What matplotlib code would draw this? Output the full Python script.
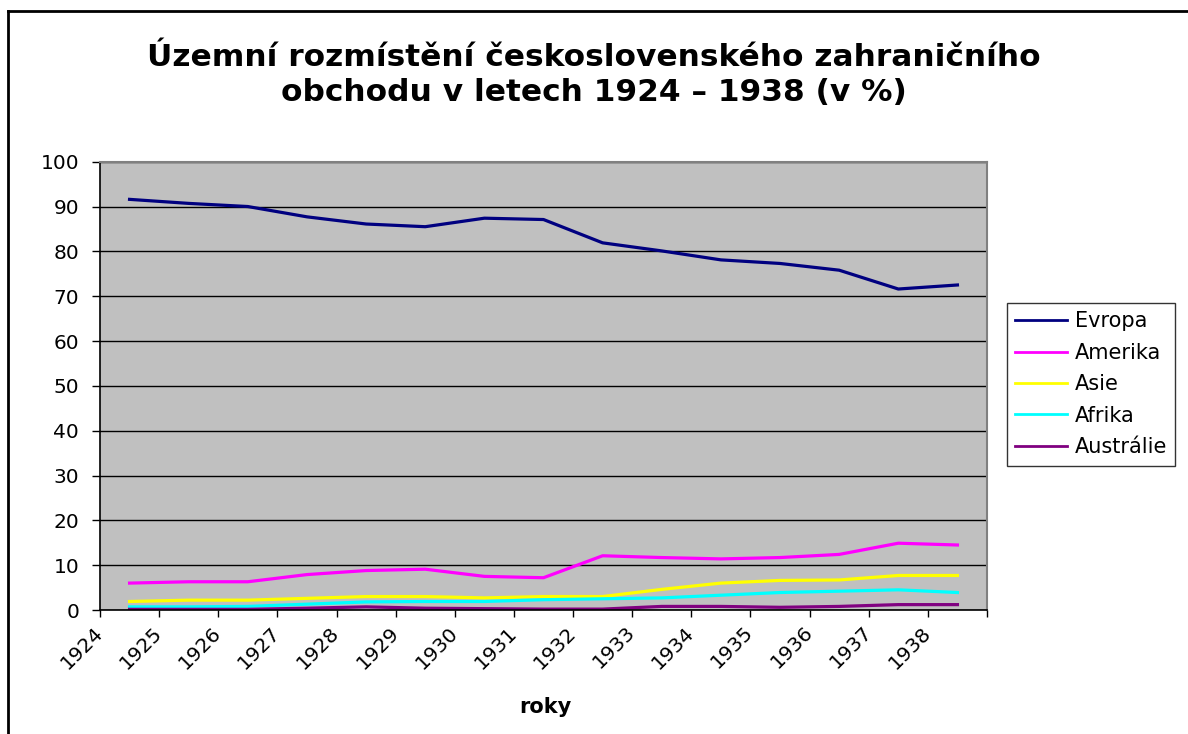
import matplotlib
matplotlib.use("Agg")
import matplotlib.pyplot as plt
import matplotlib.transforms as mtransforms
import numpy as np
from matplotlib.lines import Line2D

plt.rcParams["font.family"] = ["DejaVu Sans"]

YEARS = np.arange(1924, 1939)
EVROPA = [91.6, 90.7, 90.0, 87.7, 86.1, 85.5, 87.4, 87.1, 81.9, 80.1, 78.1, 77.3, 75.8, 71.6, 72.5]
AMERIKA = [6.0, 6.3, 6.3, 7.9, 8.8, 9.1, 7.5, 7.2, 12.1, 11.7, 11.4, 11.7, 12.4, 14.9, 14.5]
ASIE = [1.9, 2.2, 2.2, 2.6, 3.0, 3.0, 2.7, 3.0, 3.0, 4.6, 6.0, 6.6, 6.7, 7.7, 7.7]
AFRIKA = [0.7, 0.7, 0.8, 1.3, 1.8, 1.9, 1.9, 2.3, 2.5, 2.7, 3.3, 3.9, 4.2, 4.5, 3.9]
AUSTRALIE = [0.15, 0.15, 0.15, 0.4, 0.7, 0.4, 0.3, 0.2, 0.2, 0.8, 0.8, 0.6, 0.8, 1.2, 1.2]

SERIES = [
    ("Evropa", EVROPA, "#000080"),
    ("Amerika", AMERIKA, "#FF00FF"),
    ("Asie", ASIE, "#FFFF00"),
    ("Afrika", AFRIKA, "#00FFFF"),
    ("Austrálie", AUSTRALIE, "#800080"),
]

W, H = 1188, 734
fig = plt.figure(figsize=(W / 100, H / 100), dpi=100)
ax = fig.add_axes([100 / W, 1 - 610 / H, 887 / W, 448.3 / H])
ax.set_facecolor("#C0C0C0")

for name, vals, col in SERIES:
    ax.plot(YEARS, vals, color=col, lw=2.3, label=name)

ax.set_xlim(1923.5, 1938.5)
ax.set_ylim(0, 100)
ax.set_yticks(np.arange(0, 101, 10))
ax.yaxis.grid(True, color="black", lw=1.0)
ax.set_axisbelow(True)

# category labels sit on the tick marks between the data points
edges = np.arange(1923.5, 1939.0, 1.0)
ax.set_xticks(edges)
ax.set_xticklabels([str(y) for y in YEARS] + [""], rotation=45,
                   ha="right", va="center", rotation_mode="anchor")
shift = mtransforms.ScaledTranslation(14 / 100, -2 / 100, fig.dpi_scale_trans)
for lbl in ax.get_xticklabels():
    lbl.set_transform(lbl.get_transform() + shift)
ax.tick_params(axis="x", direction="out", length=5, width=1, pad=9, labelsize=14.5)
ax.tick_params(axis="y", direction="out", length=6, width=1, pad=9, labelsize=14.5)

for side in ("left", "bottom"):
    ax.spines[side].set_color("black")
    ax.spines[side].set_linewidth(1.2)
for side in ("top", "right"):
    ax.spines[side].set_color("#808080")
    ax.spines[side].set_linewidth(1.5)

fig.text(594 / W, 1 - 75 / H,
         "Územní rozmístění československého zahraničního\nobchodu v letech 1924 – 1938 (v %)",
         ha="center", va="center", fontsize=22.5, fontweight="bold", linespacing=1.3)
fig.text(545 / W, 1 - 707 / H, "roky", ha="center", va="center",
         fontsize=15, fontweight="bold")

leg = fig.legend(loc="upper left", bbox_to_anchor=(1007 / W, 1 - 303 / H),
                 fontsize=15, frameon=True, fancybox=False, handlelength=2.5,
                 handletextpad=0.35, labelspacing=0.55, borderpad=0.4,
                 borderaxespad=0)
leg.get_frame().set_edgecolor("black")
leg.get_frame().set_linewidth(1.0)
for h in leg.legend_handles:
    h.set_linewidth(2.0)

# outer chart border
fig.add_artist(Line2D([8 / W, 8 / W], [0, 1 - 11 / H], transform=fig.transFigure,
                      color="black", lw=2))
fig.add_artist(Line2D([8 / W, 1], [1 - 11 / H, 1 - 11 / H], transform=fig.transFigure,
                      color="black", lw=2))

fig.savefig("out.png", dpi=100)
